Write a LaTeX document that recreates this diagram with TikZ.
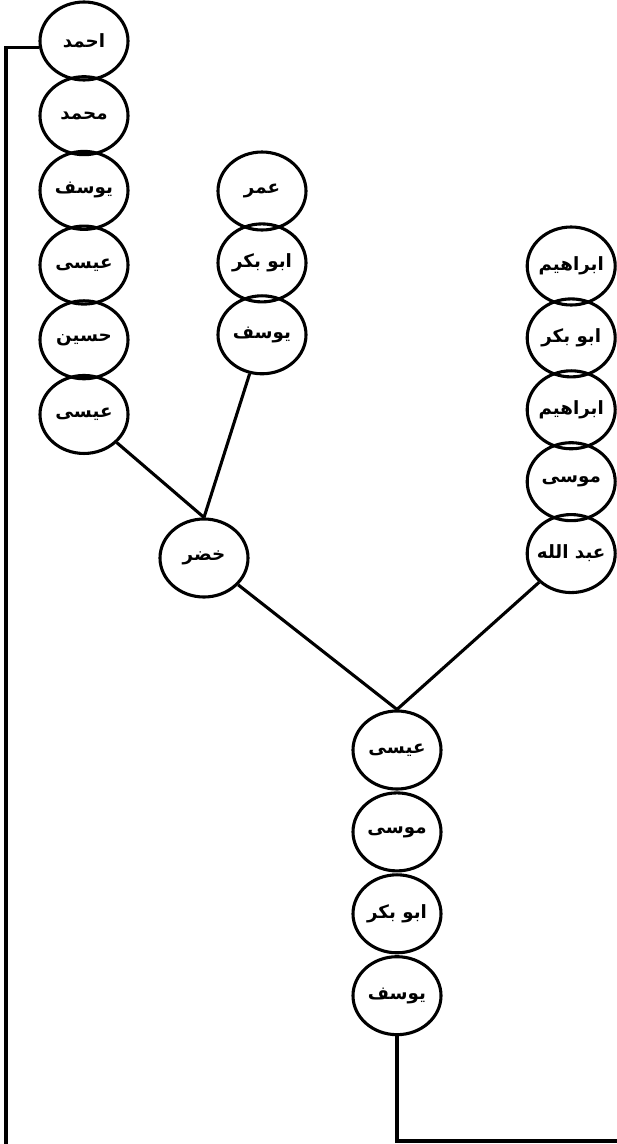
\documentclass[tikz,border=0pt]{standalone}
\usepackage{fontspec}
\newfontfamily\arabicfont[Script=Arabic]{DejaVu Sans}
\TeXXeTstate=1
\usetikzlibrary{positioning,shapes.geometric}
\newcommand{\artxt}[1]{\arabicfont\bfseries\beginR #1\endR}

\begin{document}
\begin{tikzpicture}[font=\fontsize{13}{15}\selectfont,line width=2.2pt,node distance=-2.3mm]
\tikzstyle{p}=[draw,ellipse,minimum width=2.2cm,minimum height=1.95cm,inner ysep=0pt,inner xsep=-2mm]
\useasboundingbox (0,0) rectangle (15.4,-28.6);
% left branch
\node[p] (ahmad) at (2.1,-1.025) {\artxt{احمد}};
\node[p,below=-1.6mm of ahmad] (muhammad) {\artxt{محمد}};
\node[p,below=-1.6mm of muhammad] (yusufA) {\artxt{یوسف}};
\node[p,below=-1.6mm of yusufA] (isaA) {\artxt{عیسی}};
\node[p,below=-1.6mm of isaA] (husayn) {\artxt{حسین}};
\node[p,below=-1.6mm of husayn] (isaB) {\artxt{عیسی}};
% middle branch
\node[p] (umar) at (6.55,-4.775) {\artxt{عمر}};
\node[p,below=of umar] (abubakrA) {\artxt{ابو بکر}};
\node[p,below=of abubakrA] (yusufB) {\artxt{یوسف}};
% right branch
\node[p] (ibrahimA) at (14.28,-6.65) {\artxt{ابراهیم}};
\node[p,below=of ibrahimA] (abubakrB) {\artxt{ابو بکر}};
\node[p,below=of abubakrB] (ibrahimB) {\artxt{ابراهیم}};
\node[p,below=of ibrahimB] (musaA) {\artxt{موسی}};
\node[p,below=of musaA] (abdallah) {\artxt{عبد الله}};
% join
\node[p] (khidr) at (5.1,-13.95) {\artxt{خضر}};
\node[p] (isaC) at (9.925,-18.75) {\artxt{عیسی}};
\node[p,below=0.2mm of isaC] (musaB) {\artxt{موسی}};
\node[p,below=0.2mm of musaB] (abubakrC) {\artxt{ابو بکر}};
\node[p,below=0.2mm of abubakrC] (yusufC) {\artxt{یوسف}};
\draw (isaB) -- (khidr.north);
\draw (yusufB) -- (khidr.north);
\draw (khidr) -- (isaC.north);
\draw (abdallah) -- (isaC.north);
% outer lines
\coordinate (lb) at (0.15,-28.7);
\coordinate (rb) at (15.5,-28.525);
\draw (ahmad.188) -| (lb);
\draw (yusufC.south) |- (rb);
\end{tikzpicture}
\end{document}
